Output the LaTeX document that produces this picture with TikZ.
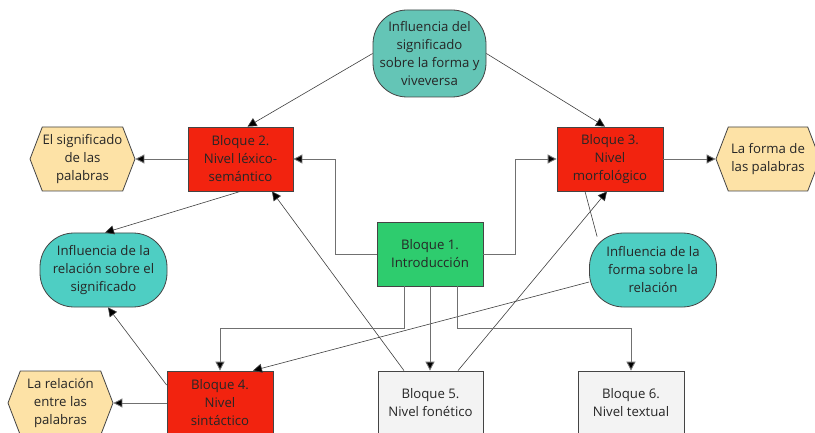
\documentclass[tikz,border=0pt]{standalone}
\usepackage{fontspec}
\setmainfont{Open Sans}
\usetikzlibrary{arrows.meta,shapes.symbols,calc}
\definecolor{tealtop}{HTML}{64C5B6}
\definecolor{tealmid}{HTML}{4ECEC3}
\definecolor{redbox}{HTML}{F2230F}
\definecolor{greenbox}{HTML}{2ECC6E}
\definecolor{graybox}{HTML}{F3F3F3}
\definecolor{hexfill}{HTML}{FDE2A6}
\definecolor{edgeline}{HTML}{444444}
\definecolor{conn}{HTML}{707070}
\tikzset{
  base/.style={draw=edgeline, line width=0.8pt, align=center, inner sep=2pt,
    font=\fontsize{13.2}{18}\selectfont, text=black!85},
  block/.style={base, rectangle, minimum width=#1, minimum height=64pt},
  influence/.style={base, rectangle, rounded corners=34pt, fill=tealmid,
    minimum width=127pt, minimum height=74pt},
  hexa/.style={base, shape=signal, signal to=west and east, signal pointer angle=138,
    fill=hexfill, minimum width=#1, minimum height=64pt, inner xsep=0pt},
  arr/.style={draw=conn, line width=0.9pt, -{Triangle[length=9pt,width=9pt,fill=black]}},
  diag/.style={draw=black!75, line width=0.6pt},
  diagarr/.style={diag, -{Triangle[length=9pt,width=9pt,fill=black]}}
}
\begin{document}
\begin{tikzpicture}[x=1pt,y=-1pt]
\useasboundingbox (0,0) rectangle (815,433);
\clip (0,0) rectangle (815,433);
\fill[white] (0,0) rectangle (815,433);

\node[base, rectangle, rounded corners=34pt, fill=tealtop, minimum width=113pt, minimum height=87pt] (infT) at (429.5,53.5)
  {Influencia del\\significado\\sobre la forma y\\viveversa};
\node[block=105pt, fill=redbox] (b2) at (240.5,159) {Bloque 2.\\Nivel léxico-\\semántico};
\node[hexa=105pt] (hexS) at (82.5,159) {El significado\\de las\\palabras};
\node[block=106pt, fill=redbox] (b3) at (610,159) {Bloque 3.\\Nivel\\morfológico};
\node[hexa=104pt] (hexF) at (768,159) {La forma de\\las palabras};
\node[block=106pt, fill=greenbox] (b1) at (430,254) {Bloque 1.\\Introducción};
\node[influence] (infR) at (103.5,270) {Influencia de la\\relación sobre el\\significado};
\node[influence] (infF) at (653,270) {Influencia de la\\forma sobre la\\relación};
\node[block=106pt, fill=redbox] (b4) at (220,403) {Bloque 4.\\Nivel\\sintáctico};
\node[hexa=105pt] (hexR) at (60.5,403) {La relación\\entre las\\palabras};
\node[block=105pt, fill=graybox] (b5) at (430.5,403) {Bloque 5.\\Nivel fonético};
\node[block=106pt, fill=graybox] (b6) at (631,403) {Bloque 6.\\Nivel textual};

% top influence to blocks 2 and 3
\draw[diagarr] (infT.west) -- ([xshift=7pt]b2.north);
\draw[diagarr] (infT.east) -- ([xshift=-5pt]b3.north);
% block 1 to blocks 2 and 3
\draw[arr] (b1.west) -- ++(-41,0) |- (b2.east);
\draw[arr] (b1.east) -- ++(32,0) |- (b3.west);
% blocks to hexagons
\draw[arr] (b2.west) -- (hexS.east);
\draw[arr] (b3.east) -- (hexF.west);
\draw[arr] (b4.west) -- (hexR.east);
% block 2 to influence relación
\draw[diagarr] (b2.south) -- ([xshift=1.5pt]infR.north);
% block 5 to blocks 2 and 3
\draw[diagarr] ([xshift=-26.5pt]b5.north) -- ([xshift=31.5pt]b2.south);
\draw[diagarr] ([xshift=27.5pt]b5.north) -- ([xshift=-3pt]b3.south);
% block 3 to influence forma
\draw[diag] ([xshift=-25pt]b3.south) -- ($(infF.north west)+(8,4)$);
% influence forma to block 4
\draw[diagarr] ([yshift=-12pt]infF.west) -- ([xshift=33pt]b4.north);
% block 4 to influence relación
\draw[diagarr] ([yshift=18pt]b4.west) -- ([xshift=4.5pt]infR.south);
% block 1 to blocks 4, 5, 6
\draw[arr] ([xshift=-26pt]b1.south) -- ++(0,42) -| (b4.north);
\draw[arr] (b1.south) -- (b1.south |- b5.north);
\draw[arr] ([xshift=27pt]b1.south) -- ++(0,42) -| (b6.north);
\end{tikzpicture}
\end{document}
